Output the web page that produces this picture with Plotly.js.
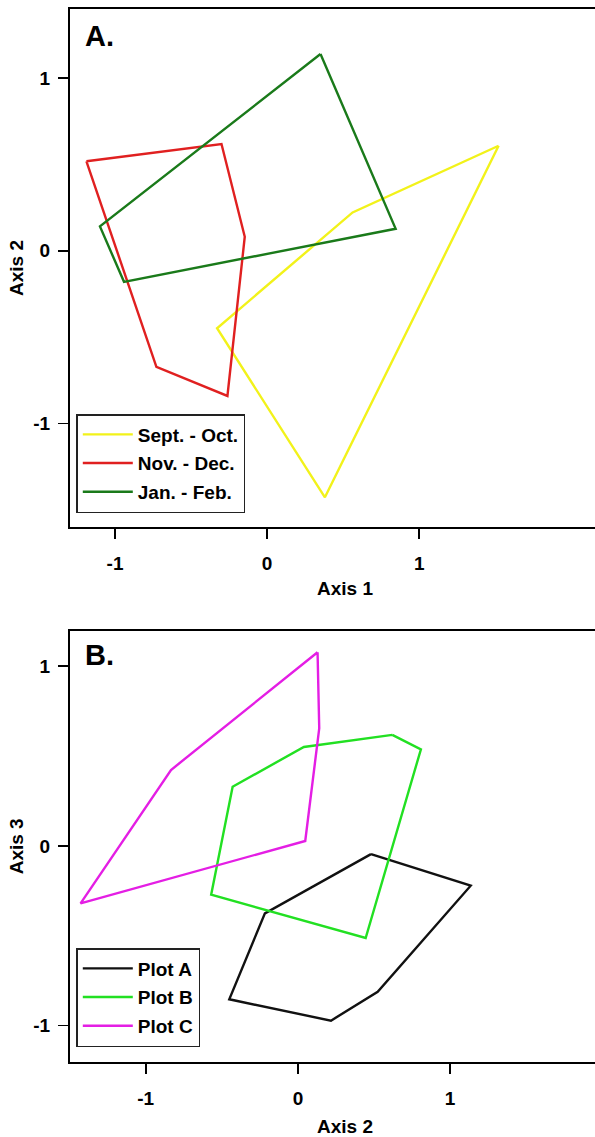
<!DOCTYPE html>
<html>
<head>
<meta charset="utf-8">
<script src="https://cdn.plot.ly/plotly-3.0.1.min.js"></script>
<style>
  html, body { margin: 0; padding: 0; overflow: hidden; background: #fff; }
  #chart { width: 620px; height: 1137px; }
</style>
</head>
<body>
<div id="chart"></div>
<script>
// Panel A: Axis 1 vs Axis 2 (season hulls)
const seasonNames = ["Sept. - Oct.", "Nov. - Dec.", "Jan. - Feb."];
const septX = [1.522, 0.562, -0.329, 0.380];
const septY = [0.608, 0.222, -0.449, -1.428];
const novX  = [-1.188, -0.300, -0.147, -0.261, -0.728];
const novY  = [0.518, 0.618, 0.081, -0.841, -0.672];
const janX  = [0.351, 0.845, -0.941, -1.099];
const janY  = [1.139, 0.127, -0.180, 0.141];

// Panel B: Axis 2 vs Axis 3 (plot hulls)
const plotNames = ["Plot A", "Plot B", "Plot C"];
const plotAX = [0.480, 1.135, 0.524, 0.217, -0.451, -0.217];
const plotAY = [-0.045, -0.221, -0.811, -0.972, -0.853, -0.375];
const plotBX = [0.620, 0.808, 0.445, -0.570, -0.429, 0.039];
const plotBY = [0.618, 0.538, -0.512, -0.271, 0.330, 0.551];
const plotCX = [0.129, 0.140, 0.048, -1.428, -0.834];
const plotCY = [1.078, 0.655, 0.028, -0.319, 0.423];

const tickVals = [-1, 0, 1];
const tickText = ["-1", "0", "1"];

const close = a => a.concat([a[0]]);
const H = 1137, W = 620, L = 70;

function hull(name, xs, ys, color, xa, ya, leg, grp) {
  return {
    type: "scatter", mode: "lines", name: name,
    x: close(xs), y: close(ys),
    xaxis: xa, yaxis: ya, legend: leg, legendgroup: grp,
    line: { color: color, width: 2.4 },
    hoverinfo: "skip"
  };
}

const traces = [
  hull(seasonNames[0], septX, septY, "#f2f21a", "x", "y", "legend", "a1"),
  hull(seasonNames[1], novX, novY, "#e02020", "x", "y", "legend", "a2"),
  hull(seasonNames[2], janX, janY, "#1a7a1a", "x", "y", "legend", "a3"),
  hull(plotNames[0], plotAX, plotAY, "#111111", "x2", "y2", "legend2", "b1"),
  hull(plotNames[1], plotBX, plotBY, "#22e022", "x2", "y2", "legend2", "b2"),
  hull(plotNames[2], plotCX, plotCY, "#e41ee4", "x2", "y2", "legend2", "b3")
];

const py = p => 1 - p / H;
const pxp = p => (p - L) / (W - L);

const FS = 19;

const axBase = {
  showline: true, mirror: true, linecolor: "#000", linewidth: 2,
  showgrid: false, zeroline: false,
  ticks: "outside", ticklen: 10, tickwidth: 1.6, tickcolor: "#000",
  tickvals: tickVals, ticktext: tickText,
  tickfont: { size: FS, color: "#000" },
  fixedrange: true
};

const legBase = {
  xanchor: "left", yanchor: "top",
  bgcolor: "#fff", bordercolor: "#222", borderwidth: 1.5,
  font: { size: FS, color: "#000" },
  itemwidth: 50,
  traceorder: "grouped", tracegroupgap: 1
};

const layout = {
  width: W, height: H,
  margin: { l: L, r: 0, t: 0, b: 0 },
  paper_bgcolor: "#fff", plot_bgcolor: "#fff",
  font: { family: "Liberation Sans, Arial, sans-serif", weight: "bold", color: "#000", size: FS },
  showlegend: true,
  xaxis: Object.assign({}, axBase, {
    range: [-1.296, 2.320], domain: [0, 1], anchor: "y", ticklabelstandoff: 8,
    title: { text: "Axis 1", font: { size: FS }, standoff: 9 }
  }),
  yaxis: Object.assign({}, axBase, {
    range: [-1.600, 1.400], domain: [py(527), py(9)], anchor: "x", ticklabelstandoff: 4,
    title: { text: "Axis 2", font: { size: FS }, standoff: 5 }
  }),
  xaxis2: Object.assign({}, axBase, {
    range: [-1.4975, 2.116], domain: [0, 1], anchor: "y2", ticklabelstandoff: 8,
    title: { text: "Axis 2", font: { size: FS }, standoff: 13 }
  }),
  yaxis2: Object.assign({}, axBase, {
    range: [-1.202, 1.198], domain: [py(1062), py(630.7)], anchor: "x2", ticklabelstandoff: 4,
    title: { text: "Axis 3", font: { size: FS }, standoff: 5 }
  }),
  legend: Object.assign({}, legBase, { x: pxp(76.3), y: py(414) }),
  legend2: Object.assign({}, legBase, { x: pxp(76.3), y: py(948) }),
  annotations: [
    { text: "A.", xref: "paper", yref: "paper", x: pxp(83), y: py(36), xanchor: "left", yanchor: "middle",
      showarrow: false, font: { size: 29, color: "#000" } },
    { text: "B.", xref: "paper", yref: "paper", x: pxp(83), y: py(655), xanchor: "left", yanchor: "middle",
      showarrow: false, font: { size: 29, color: "#000" } }
  ]
};

Plotly.newPlot("chart", traces, layout, { staticPlot: true, displayModeBar: false });
</script>
</body>
</html>
